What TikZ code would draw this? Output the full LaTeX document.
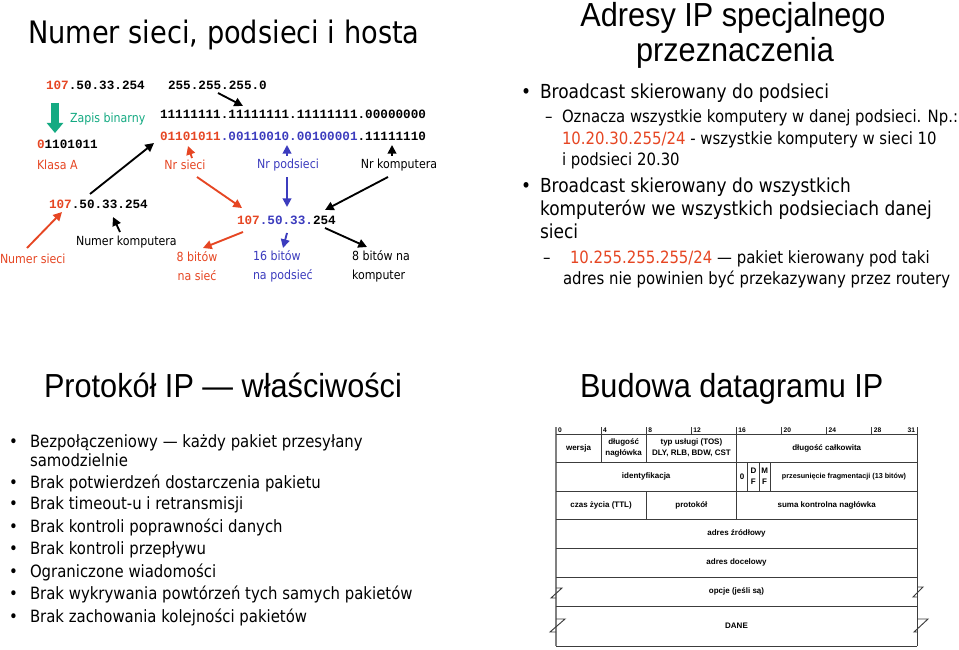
\documentclass[tikz,border=0pt]{standalone}
\usepackage{fontspec}
\setmainfont[FakeStretch=0.88]{DejaVu Sans}
\newfontfamily\narrowf[FakeStretch=0.92]{Liberation Sans}
\newfontfamily\monof{Liberation Mono}
\newfontfamily\tabf{Liberation Sans}
\usetikzlibrary{arrows.meta,calc}
\definecolor{ored}{RGB}{230,70,35}
\definecolor{pblue}{RGB}{60,60,190}
\definecolor{tgreen}{RGB}{20,170,130}
\definecolor{tline}{RGB}{60,60,60}
\tikzset{
  every node/.style={inner sep=0pt,outer sep=0pt},
  ttl/.style={font=\fontsize{23.2}{27}\selectfont,anchor=west,text height=16.9pt,text depth=0pt},
  ntl/.style={font=\narrowf\fontsize{25}{30}\selectfont,text height=17.9pt,text depth=0pt},
  mono/.style={font=\monof\bfseries\fontsize{9.5}{11}\selectfont,anchor=west,text height=6.2pt,text depth=0pt},
  lbl/.style={font=\fontsize{9.4}{14}\selectfont},
  bl/.style={font=\fontsize{14.5}{17}\selectfont,anchor=west,text height=10.6pt,text depth=0pt},
  sub/.style={font=\fontsize{12.7}{15}\selectfont,anchor=west,text height=9.25pt,text depth=0pt},
  li/.style={font=\fontsize{12.7}{15}\selectfont,anchor=west,text height=9.25pt,text depth=0pt},
  arr/.style={-{Triangle[length=6.5pt,width=6.5pt]},line width=1.4pt},
  garr/.style={-{Triangle[length=7.5pt,width=12pt]},line width=6.5pt,draw=tgreen},
  tl/.style={draw=tline,line width=0.7pt},
  tt/.style={font=\tabf\bfseries\fontsize{6.0}{8}\selectfont,align=center},
  tn/.style={font=\tabf\bfseries\fontsize{5}{6}\selectfont},
}
\begin{document}
\begin{tikzpicture}[x=0.75pt,y=-0.75pt]
\path[use as bounding box,fill=white] (0,0) rectangle (959,649);

% ---------- top left ----------
\node[ttl] (t1) at (28,32) {Numer sieci, podsieci i hosta};
\node[mono] (ip1) at (46,85) {{\color{ored}107}.50.33.254};
\node[mono] (mask) at (168,85) {255.255.255.0};
\node[lbl,anchor=west,text=tgreen] (zapis) at (70,119) {Zapis binarny};
\node[mono] (bin1) at (37,144) {{\color{ored}0}1101011};
\node[lbl,anchor=west,text=ored] (klasa) at (37,165) {Klasa A};
\node[mono] (bin2) at (160,114) {11111111.11111111.11111111.00000000};
\node[mono] (bin3) at (160,136) {{\color{ored}01101011}{\color{pblue}.00110010.00100001}.11111110};
\node[lbl,text=ored] (nrs) at (185,165) {Nr sieci};
\node[lbl,text=pblue] (nrp) at (288,165) {Nr podsieci};
\node[lbl] (nrk) at (399,165) {Nr komputera};
\node[mono] (ip2) at (49,204) {{\color{ored}107}.50.33.254};
\node[mono] (ip3) at (237,220) {{\color{ored}107}{\color{pblue}.50.33.}254};
\node[lbl,anchor=west,text=ored] (nums) at (0,259) {Numer sieci};
\node[lbl,anchor=west] (numk) at (76,242) {Numer komputera};
\node[lbl,align=center,text=ored] (b8s) at (197,266) {8 bitów\\na sieć};
\node[lbl,align=left,anchor=west,text=pblue] (b16) at (253,266) {16 bitów\\na podsieć};
\node[lbl,align=left,anchor=west] (b8k) at (352,266) {8 bitów na\\komputer};

\draw[garr] ($(ip1.west)+(9,18)$) -- ($(bin1.west)+(18,-11)$);
\draw[arr] ($(mask.west)+(50,8)$) -- ($(bin2.west)+(83,-8)$);
\draw[arr] ($(ip2.west)+(41,-10)$) -- ($(bin3.west)+(-6,7)$);
\draw[arr,ored] ($(nrs.center)+(7,-7)$) -- ($(bin3.west)+(28,10)$);
\draw[arr,pblue] ($(nrp.center)+(-1,-9)$) -- ($(bin3.west)+(127,9)$);
\draw[arr] ($(nrk.center)+(-7,-9)$) -- ($(bin3.west)+(232,9)$);
\draw[arr,ored] ($(nrs.center)+(12,12)$) -- ($(ip3.west)+(5,-12)$);
\draw[arr,pblue] ($(nrp.center)+(-1,12)$) -- ($(ip3.west)+(50,-13)$);
\draw[arr] ($(nrk.center)+(-11,12)$) -- ($(ip3.west)+(88,-10)$);
\draw[arr,ored] ($(ip3.west)+(6,12)$) -- ($(b8s.center)+(6,-18)$);
\draw[arr,pblue] ($(ip3.west)+(50,13)$) -- ($(b16.west)+(30,-18)$);
\draw[arr] ($(ip3.west)+(88,8)$) -- ($(b8k.west)+(15,-19)$);
\draw[arr,ored] ($(nums.west)+(27,-11)$) -- ($(ip2.west)+(13,8)$);
\draw[arr] ($(numk.west)+(44,-10)$) -- ($(ip2.west)+(64,13)$);

% ---------- top right ----------
\node[ntl] (t2a) at (733,15) {Adresy IP specjalnego};
\node[ntl] (t2b) at (735,50) {przeznaczenia};
\node[bl] (bu1) at (521,91) {•};
\node[bl] (r1) at (540,91) {Broadcast skierowany do podsieci};
\node[sub] (da1) at (545,116) {–};
\node[sub] (r2) at (562,116) {Oznacza wszystkie komputery w danej podsieci. Np.:};
\node[sub] (r3) at (562,138) {{\color{ored}10.20.30.255/24} - wszystkie komputery w sieci 10};
\node[sub] (r4) at (562,159) {i podsieci 20.30};
\node[bl] (bu2) at (521,185) {•};
\node[bl] (r5) at (540,185) {Broadcast skierowany do wszystkich};
\node[bl] (r6) at (540,208) {komputerów we wszystkich podsieciach danej};
\node[bl] (r7) at (540,231) {sieci};
\node[sub] (da2) at (543,257) {–};
\node[sub] (r8) at (570,257) {{\color{ored}10.255.255.255/24} — pakiet kierowany pod taki};
\node[sub] (r9) at (563,278) {adres nie powinien być przekazywany przez routery};

% ---------- bottom left ----------
\node[ntl,anchor=west] (t3) at (44,386) {Protokół IP — właściwości};
\foreach \n/\y in {1/441,2/482,3/503,4/526,5/548,6/571,7/593,8/616}
  \node[li] (lb\n) at (9,\y) {•};
\node[li] (l1) at (30,441) {Bezpołączeniowy — każdy pakiet przesyłany};
\node[li] (l1b) at (30,460) {samodzielnie};
\node[li] (l2) at (30,482) {Brak potwierdzeń dostarczenia pakietu};
\node[li] (l3) at (30,503) {Brak timeout-u i retransmisji};
\node[li] (l4) at (30,526) {Brak kontroli poprawności danych};
\node[li] (l5) at (30,548) {Brak kontroli przepływu};
\node[li] (l6) at (30,571) {Ograniczone wiadomości};
\node[li] (l7) at (30,593) {Brak wykrywania powtórzeń tych samych pakietów};
\node[li] (l8) at (30,616) {Brak zachowania kolejności pakietów};

% ---------- bottom right ----------
\node[ntl,anchor=west] (t4) at (580,386) {Budowa datagramu IP};
% borders
\draw[tl,line width=1.2pt,draw=gray] (556,427) -- (556,646);
\draw[tl] (917,427) -- (917,646);
\foreach \y in {434,462,491,519,548,577,606,646}
  \draw[tl] (556,\y) -- (917,\y);
\foreach \b in {4,8,12,16,20,24,28}
  \draw[tl] ({556+11.28*\b},427) -- ({556+11.28*\b},434);
\foreach \b in {4,8,16}
  \draw[tl] ({556+11.28*\b},434) -- ({556+11.28*\b},462);
\foreach \b in {16,17,18,19}
  \draw[tl] ({556+11.28*\b},462) -- ({556+11.28*\b},491);
\foreach \b in {8,16}
  \draw[tl] ({556+11.28*\b},491) -- ({556+11.28*\b},519);
% break marks
\draw[tl] (556,588) -- (562,588) -- (551,598) -- (556,598);
\draw[tl] (556,619) -- (565,619) -- (550,632) -- (556,632);
\draw[tl] (917,587) -- (923,587) -- (913,597) -- (917,597);
\draw[tl] (917,619) -- (928,619) -- (914,632) -- (917,632);
% header numbers
\foreach \b in {0,4,8,12,16,20,24,28}
  \node[tn,anchor=west] (h\b) at ({556+11.28*\b+2},430) {\b};
\node[tn,anchor=east] (h31) at (915,430) {31};
% cell texts
\node[tt] (c1) at (578.5,448) {wersja};
\node[tt] (c2) at (623.6,448) {długość\\nagłówka};
\node[tt] (c3) at (691.4,448) {typ usługi (TOS)\\DLY, RLB, BDW, CST};
\node[tt] (c4) at (826.7,448) {długość całkowita};
\node[tt] (c5) at (646.2,476.5) {identyfikacja};
\node[tt] (c6) at (742.2,476.5) {0};
\node[tt] (c7) at (753.4,476.5) {D\\F};
\node[tt] (c8) at (764.6,476.5) {M\\F};
\node[tt,font=\tabf\bfseries\fontsize{5.4}{7}\selectfont] (c9) at (844,476.5) {przesunięcie fragmentacji (13 bitów)};
\node[tt] (c10) at (601.1,505) {czas życia (TTL)};
\node[tt] (c11) at (691.4,505) {protokół};
\node[tt] (c12) at (826.7,505) {suma kontrolna nagłówka};
\node[tt] (c13) at (736.5,533.5) {adres źródłowy};
\node[tt] (c14) at (736.5,562.5) {adres docelowy};
\node[tt] (c15) at (736.5,591.5) {opcje (jeśli są)};
\node[tt] (c16) at (736.5,626) {DANE};
\end{tikzpicture}
\end{document}
